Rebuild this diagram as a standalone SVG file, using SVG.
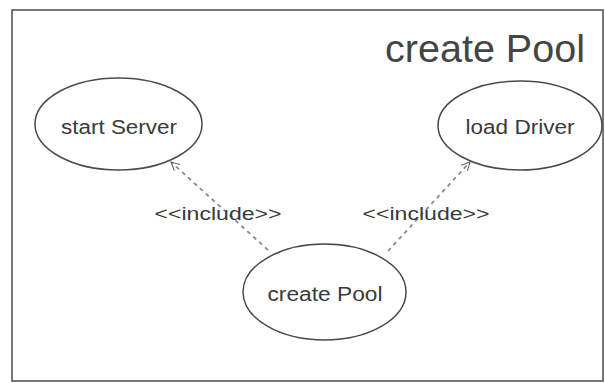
<svg xmlns="http://www.w3.org/2000/svg" width="605" height="383" viewBox="0 0 605 383">
  <style>
    .frame { fill: #ffffff; stroke: #555555; stroke-width: 1.6; }
    .uc { fill: #ffffff; stroke: #4a4a4a; stroke-width: 1.5; }
    .lbl { font-family: "Liberation Sans", Arial, sans-serif; fill: #3a3a3a; text-anchor: middle; }
    .node-lbl { font-size: 20px; }
    .inc { font-size: 19px; }
    .title { font-size: 38px; fill: #444444; }
    .dep { fill: none; stroke: #8a8a8a; stroke-width: 1.8; stroke-dasharray: 4 4; }
  </style>
  <defs>
    <marker id="openArrow" viewBox="0 0 12 12" refX="11" refY="6" markerWidth="10" markerHeight="10" markerUnits="userSpaceOnUse" orient="auto">
      <path d="M1,1 L11,6 L1,11" fill="none" stroke="#6a6a6a" stroke-width="1.3"/>
    </marker>
  </defs>

  <rect width="605" height="383" fill="#ffffff"/>

  <!-- system boundary -->
  <rect class="frame" x="12" y="10" width="591" height="371"/>
  <text class="lbl title" x="485" y="62" textLength="200" lengthAdjust="spacingAndGlyphs">create Pool</text>

  <!-- include dependencies -->
  <g id="connectors">
    <line class="dep" x1="268" y1="250" x2="171" y2="162" marker-end="url(#openArrow)"/>
    <line class="dep" x1="388" y1="251" x2="470" y2="162" marker-end="url(#openArrow)"/>
    <text class="lbl inc" x="218" y="220" textLength="127" lengthAdjust="spacingAndGlyphs">&lt;&lt;include&gt;&gt;</text>
    <text class="lbl inc" x="426" y="220" textLength="127" lengthAdjust="spacingAndGlyphs">&lt;&lt;include&gt;&gt;</text>
  </g>

  <g id="startServer">
    <ellipse class="uc" cx="118.5" cy="124" rx="83.5" ry="46"/>
    <text class="lbl node-lbl" x="119" y="134" textLength="116" lengthAdjust="spacingAndGlyphs">start Server</text>
  </g>

  <g id="loadDriver">
    <ellipse class="uc" cx="520" cy="125.5" rx="82" ry="44.5"/>
    <text class="lbl node-lbl" x="520" y="134" textLength="109" lengthAdjust="spacingAndGlyphs">load Driver</text>
  </g>

  <g id="createPool">
    <ellipse class="uc" cx="324.5" cy="292" rx="81.5" ry="48"/>
    <text class="lbl node-lbl" x="325" y="301" textLength="115" lengthAdjust="spacingAndGlyphs">create Pool</text>
  </g>
</svg>
